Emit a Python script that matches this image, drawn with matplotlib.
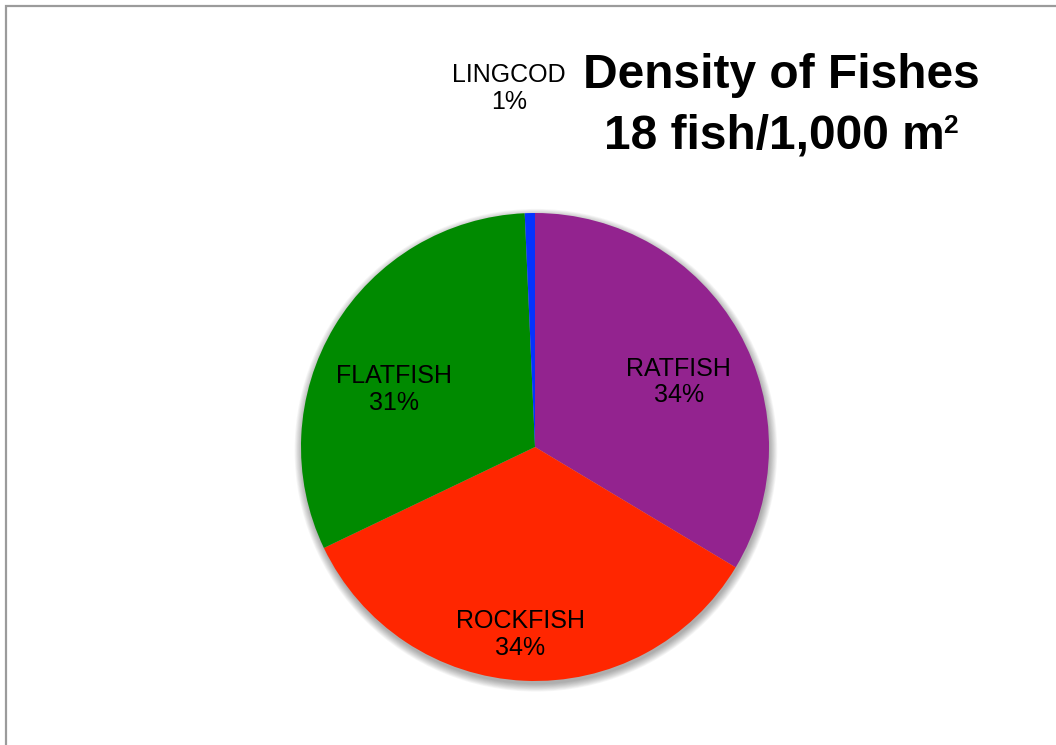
import matplotlib
matplotlib.use("Agg")
import matplotlib.pyplot as plt
from matplotlib.patches import Circle, Rectangle

# Share of fish density by group (percent)
species = ["RATFISH", "ROCKFISH", "FLATFISH", "LINGCOD"]
shares = [33.6, 34.3, 31.4, 0.7]
colors = ["#93238F", "#FF2600", "#008A00", "#0433FF"]

title_line1 = "Density of Fishes"
title_line2 = "18 fish/1,000 m"
title_sup = "2"

# Label anchor points, in units of the pie radius from its centre
label_xy = [(0.615, 0.278), (-0.064, -0.803), (-0.603, 0.244), (-0.111, 1.532)]

W, H = 1056, 745
fig = plt.figure(figsize=(W / 100, H / 100), dpi=100)
fig.patch.set_facecolor("white")

# Grey frame running off the right and bottom edges
fig.patches.append(Rectangle((5.5 / W, -0.05), 1.2, 0.05 + (H - 6.5) / H,
                             transform=fig.transFigure, fill=False,
                             edgecolor="#9b9b9b", linewidth=1.6))

cx, cy, r = 535, 447, 234
ax = fig.add_axes([(cx - r) / W, (H - cy - r) / H, 2 * r / W, 2 * r / H])
ax.axis("off")

# Soft drop shadow under the pie
for i in range(10):
    ax.add_patch(Circle((0.004, -0.014), 1.0 + 0.0035 * i, facecolor="black",
                        edgecolor="none", alpha=0.035, zorder=0,
                        clip_on=False))

wedges, _ = ax.pie(shares, colors=colors, startangle=90, counterclock=False,
                   radius=1.0, wedgeprops=dict(linewidth=0))
for w in wedges:
    w.set_zorder(2)
    w.set_clip_on(False)
ax.set_xlim(-1, 1)
ax.set_ylim(-1, 1)
ax.set_aspect("equal")

total = sum(shares)
font = "Liberation Sans"
for name, val, (lx, ly) in zip(species, shares, label_xy):
    ax.text(lx, ly, f"{name}\n{round(100 * val / total):d}%", ha="center",
            va="center", fontsize=18, family=font, color="black",
            linespacing=1.15, zorder=5, clip_on=False)

# Two-line title; the unit's exponent is a separate raised, smaller "2"
title_cx = 781
fig.text(title_cx / W, (H - 88) / H, title_line1, ha="center", va="baseline",
         fontsize=34.5, fontweight="bold", family=font)
main = fig.text(0, (H - 148) / H, title_line2, ha="left", va="baseline",
                fontsize=34.5, fontweight="bold", family=font)
sup = fig.text(0, (H - 133) / H, title_sup, ha="left", va="baseline",
               fontsize=19, fontweight="bold", family=font)
renderer = fig.canvas.get_renderer()
w_main = main.get_window_extent(renderer).width
w_sup = sup.get_window_extent(renderer).width
gap = -2
left = title_cx - (w_main + gap + w_sup) / 2
main.set_x(left / W)
sup.set_x((left + w_main + gap) / W)

fig.savefig("out.png", dpi=100, facecolor="white")
